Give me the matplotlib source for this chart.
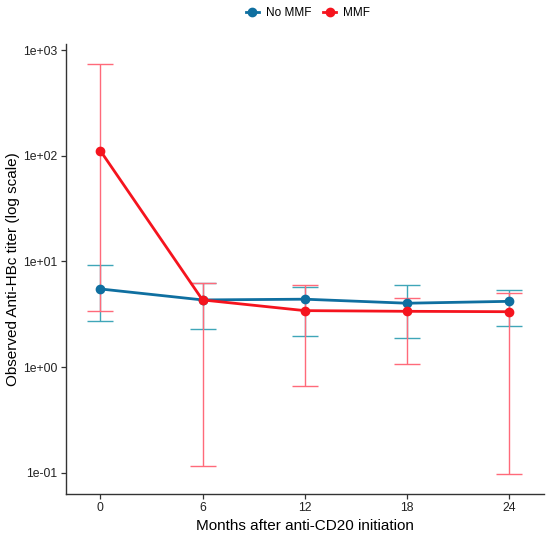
import matplotlib
matplotlib.use("Agg")
import matplotlib.pyplot as plt
from matplotlib.lines import Line2D
import numpy as np

plt.rcParams['font.family'] = ['Liberation Sans', 'DejaVu Sans']

months = [0, 6, 12, 18, 24]
no_mmf_mean = [5.5, 4.33, 4.4, 4.03, 4.2]
no_mmf_low = [2.75, 2.29, 1.97, 1.90, 2.45]
no_mmf_high = [9.2, 6.3, 5.8, 6.0, 5.37]
mmf_mean = [112, 4.33, 3.43, 3.38, 3.35]
mmf_low = [3.4, 0.117, 0.66, 1.07, 0.0986]
mmf_high = [738, 6.3, 5.96, 4.52, 5.0]

y_ticks = [0.1, 1, 10, 100, 1000]
y_tick_labels = ["1e-01", "1e+00", "1e+01", "1e+02", "1e+03"]
x_ticks = [0, 6, 12, 18, 24]
series_names = ["No MMF", "MMF"]

blue_line = "#0F6FA0"
blue_err = "#3FA6B8"
red_line = "#F5141E"
red_err = "#FF6A7A"

W, H = 550, 536
fig = plt.figure(figsize=(W / 100, H / 100), dpi=100)
ax = fig.add_axes([65.5 / W, (H - 494) / H, (544 - 65.5) / W, (494 - 44) / H])

def yerr(mean, low, high):
    m = np.array(mean); return [m - np.array(low), np.array(high) - m]

ax.errorbar(months, no_mmf_mean, yerr=yerr(no_mmf_mean, no_mmf_low, no_mmf_high),
            fmt='none', ecolor=blue_err, elinewidth=1.0, capsize=9.1, capthick=1.0, zorder=2)
ax.errorbar(months, mmf_mean, yerr=yerr(mmf_mean, mmf_low, mmf_high),
            fmt='none', ecolor=red_err, elinewidth=1.0, capsize=9.1, capthick=1.0, zorder=3)
ax.plot(months, no_mmf_mean, color=blue_line, lw=2.0, marker='o', ms=6, zorder=4)
ax.plot(months, mmf_mean, color=red_line, lw=2.0, marker='o', ms=6, zorder=5)

ax.set_yscale('log')
ax.set_xlim(-2.04, 26.04)
ax.set_ylim(10 ** -1.199, 10 ** 3.057)
ax.set_yticks(y_ticks)
ax.set_yticklabels(y_tick_labels)
ax.minorticks_off()
ax.set_xticks(x_ticks)
ax.set_xticklabels([str(m) for m in x_ticks])

for s in ['top', 'right']:
    ax.spines[s].set_visible(False)
for s in ['left', 'bottom']:
    ax.spines[s].set_color('#333333')
    ax.spines[s].set_linewidth(1.0)
ax.tick_params(axis='both', length=3.5, width=0.9, color='#333333',
               labelsize=8.8, labelcolor='#222222', pad=2.5)

ax.set_xlabel("Months after anti-CD20 initiation", fontsize=11, color='black', labelpad=3)
ax.set_ylabel("Observed Anti-HBc titer (log scale)", fontsize=11, color='black', labelpad=2)

handles = [Line2D([], [], color=blue_line, lw=2.0, marker='o', ms=6),
           Line2D([], [], color=red_line, lw=2.0, marker='o', ms=6)]
fig.legend(handles, series_names, loc='center', bbox_to_anchor=(308 / W, 1 - 13 / H),
           ncol=2, frameon=False, fontsize=8.5, handlelength=1.1, handletextpad=0.6,
           columnspacing=1.0)

fig.savefig("out.png", dpi=100)
